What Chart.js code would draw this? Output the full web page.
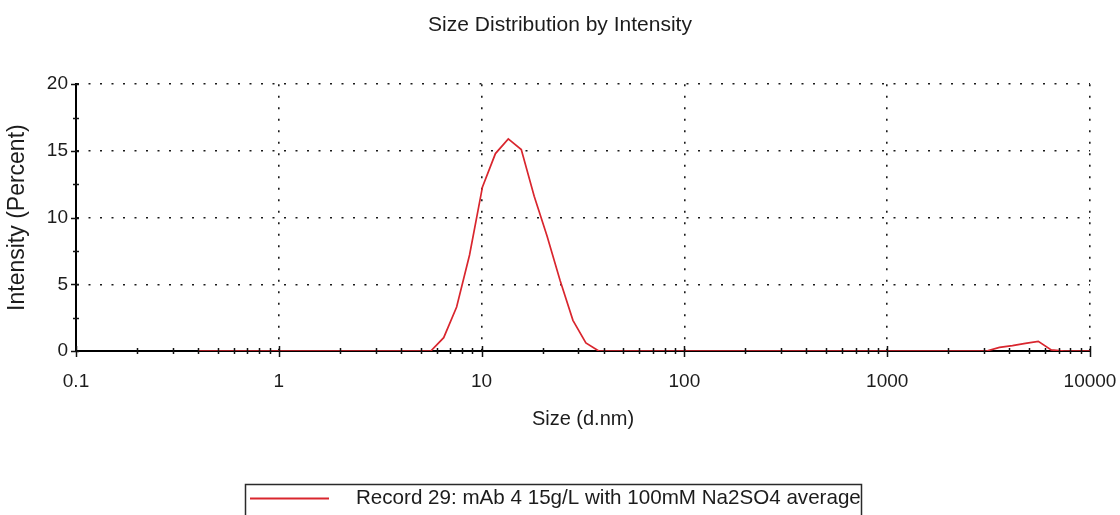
<!DOCTYPE html>
<html>
<head>
<meta charset="utf-8">
<title>Size Distribution by Intensity</title>
<script src="https://cdn.jsdelivr.net/npm/chart.js@4/dist/chart.umd.min.js"></script>
<style>
  html, body { margin: 0; padding: 0; background: #ffffff; }
  #wrap { position: relative; width: 1120px; height: 515px; overflow: hidden; }
</style>
</head>
<body>
<div id="wrap"><canvas id="chart" width="1120" height="515"></canvas></div>
<script>
// Size classes (d.nm) of the distribution, 0.4 to 10000 nm
const sizes = [
  0.4, 0.4632, 0.5365, 0.6213, 0.7195, 0.8332, 0.9649, 1.117, 1.294, 1.499,
  1.736, 2.01, 2.328, 2.696, 3.122, 3.615, 4.187, 4.849, 5.615, 6.503,
  7.531, 8.721, 10.1, 11.7, 13.54, 15.69, 18.17, 21.04, 24.36, 28.21,
  32.67, 37.84, 43.82, 50.75, 58.77, 68.06, 78.82, 91.28, 105.7, 122.4,
  141.8, 164.2, 190.1, 220.2, 255, 295.3, 342, 396.1, 458.7, 531.2,
  615.1, 712.4, 825, 955.4, 1106, 1281, 1484, 1718, 1990, 2305,
  2669, 3091, 3580, 4145, 4801, 5560, 6439, 7456, 8635, 10000
];

// Intensity (%) per size class
const intensity = [
  0, 0, 0, 0, 0, 0, 0, 0, 0, 0,
  0, 0, 0, 0, 0, 0, 0, 0, 0, 1.0,
  3.3, 7.2, 12.3, 14.8, 15.9, 15.1, 11.6, 8.6, 5.3, 2.3,
  0.6, 0, 0, 0, 0, 0, 0, 0, 0, 0,
  0, 0, 0, 0, 0, 0, 0, 0, 0, 0,
  0, 0, 0, 0, 0, 0, 0, 0, 0, 0,
  0, 0, 0.27, 0.4, 0.57, 0.72, 0.08, 0, 0, 0
];

const seriesLabel = 'Record 29: mAb 4 15g/L with 100mM Na2SO4 average';
const chartTitle = 'Size Distribution by Intensity';
const xTitle = 'Size (d.nm)';
const yTitle = 'Intensity (Percent)';

// Decade tick values and their labels on the size axis
const decades = [0.1, 1, 10, 100, 1000, 10000];
const decadeLabels = ['0.1', '1', '10', '100', '1000', '10000'];
// Labelled intensity ticks; minor marks sit halfway between them
const yTicks = [0, 5, 10, 15, 20];
const yMinorStep = 2.5;

const FONT = "'Liberation Sans', Arial, Helvetica, sans-serif";
const TEXT = '#1c1c1c';
const LINE_RED = '#d9262e';

// Log-axis tick values: 1..9 within every decade, closing on 10000
const xTickValues = [];
for (let d = 0; d < decades.length - 1; d++) {
  for (let m = 1; m <= 9; m++) {
    xTickValues.push(m === 1 ? decades[d] : +(decades[d] * m).toPrecision(6));
  }
}
xTickValues.push(decades[decades.length - 1]);

const points = sizes.map((s, i) => ({ x: s, y: intensity[i] }));

// Short tick marks crossing both axes, drawn over the trace
const axisMarks = {
  id: 'axisMarks',
  afterDatasetsDraw(chart) {
    const { ctx, scales: { x, y } } = chart;
    ctx.save();
    ctx.strokeStyle = '#111';
    ctx.lineWidth = 1.5;
    const yBase = y.getPixelForValue(0);
    x.ticks.forEach(t => {
      const px = Math.round(x.getPixelForValue(t.value)) + 0.5;
      const major = decades.includes(t.value);
      const len = major ? 5 : 3;
      ctx.beginPath();
      ctx.moveTo(px, yBase - len);
      ctx.lineTo(px, yBase + len + (major ? 1 : 0));
      ctx.stroke();
    });
    const xBase = x.getPixelForValue(decades[0]);
    y.ticks.forEach(t => {
      const py = Math.round(y.getPixelForValue(t.value)) + 0.5;
      const major = yTicks.includes(t.value);
      ctx.beginPath();
      ctx.moveTo(xBase - (major ? 5 : 3), py);
      ctx.lineTo(xBase + 3, py);
      ctx.stroke();
    });
    ctx.restore();
  }
};

// Boxed legend under the plot
const boxedLegend = {
  id: 'boxedLegend',
  afterDraw(chart) {
    const { ctx } = chart;
    const ds = chart.data.datasets[0];
    ctx.save();
    ctx.strokeStyle = '#2a2a2a';
    ctx.lineWidth = 1.5;
    ctx.strokeRect(245.5, 484.5, 616, 44);
    ctx.strokeStyle = ds.borderColor;
    ctx.lineWidth = 2;
    ctx.beginPath();
    ctx.moveTo(250, 498.5);
    ctx.lineTo(329, 498.5);
    ctx.stroke();
    ctx.fillStyle = TEXT;
    ctx.font = '20.6px ' + FONT;
    ctx.textBaseline = 'middle';
    ctx.textAlign = 'left';
    ctx.fillText(ds.label, 356, 498);
    ctx.restore();
  }
};

const gridDots = { display: true, color: '#000', width: 2, dash: [2, 9.5] };

new Chart(document.getElementById('chart'), {
  type: 'line',
  data: {
    datasets: [{
      label: seriesLabel,
      data: points,
      borderColor: LINE_RED,
      borderWidth: 1.7,
      pointRadius: 0,
      pointHoverRadius: 0,
      tension: 0,
      fill: false
    }]
  },
  options: {
    responsive: false,
    animation: false,
    devicePixelRatio: 1,
    layout: { padding: { left: 0, right: 0, top: 0, bottom: 0 } },
    plugins: {
      legend: { display: false },
      tooltip: { enabled: false },
      title: {
        display: true,
        text: chartTitle,
        color: TEXT,
        font: { family: FONT, size: 21, weight: 'normal' },
        padding: { top: 13, bottom: 46 }
      }
    },
    scales: {
      x: {
        type: 'logarithmic',
        min: decades[0],
        max: decades[decades.length - 1],
        afterBuildTicks(scale) {
          scale.ticks = xTickValues.map(v => ({ value: v, major: decades.includes(v) }));
        },
        afterFit(scale) {
          scale.height = 164;
          scale.paddingRight = 30;
        },
        ticks: {
          autoSkip: false,
          maxRotation: 0,
          minRotation: 0,
          padding: 19,
          color: TEXT,
          font: { family: FONT, size: 19 },
          callback(value) {
            const i = decades.indexOf(value);
            return i >= 0 ? decadeLabels[i] : '';
          }
        },
        grid: {
          drawTicks: false,
          lineWidth: 1.6,
          color(ctx) {
            return ctx.tick && decades.indexOf(ctx.tick.value) > 0 ? '#1a1a1a' : 'rgba(0,0,0,0)';
          }
        },
        border: gridDots,
        title: {
          display: true,
          text: xTitle,
          color: TEXT,
          font: { family: FONT, size: 20 },
          padding: { top: 0, bottom: 84 }
        }
      },
      y: {
        type: 'linear',
        min: yTicks[0],
        max: yTicks[yTicks.length - 1],
        afterFit(scale) {
          scale.width = 76;
        },
        ticks: {
          stepSize: yMinorStep,
          autoSkip: false,
          padding: 8,
          color: TEXT,
          font: { family: FONT, size: 19 },
          callback(value) {
            return yTicks.includes(value) ? String(value) : '';
          }
        },
        grid: {
          drawTicks: false,
          lineWidth: 1.6,
          color(ctx) {
            const v = ctx.tick ? ctx.tick.value : 0;
            return yTicks.includes(v) && v > 0 ? '#1a1a1a' : 'rgba(0,0,0,0)';
          }
        },
        border: gridDots,
        title: {
          display: true,
          text: yTitle,
          color: TEXT,
          font: { family: FONT, size: 23 },
          padding: { top: 4, bottom: 0 }
        }
      }
    }
  },
  plugins: [axisMarks, boxedLegend]
});
</script>
</body>
</html>
